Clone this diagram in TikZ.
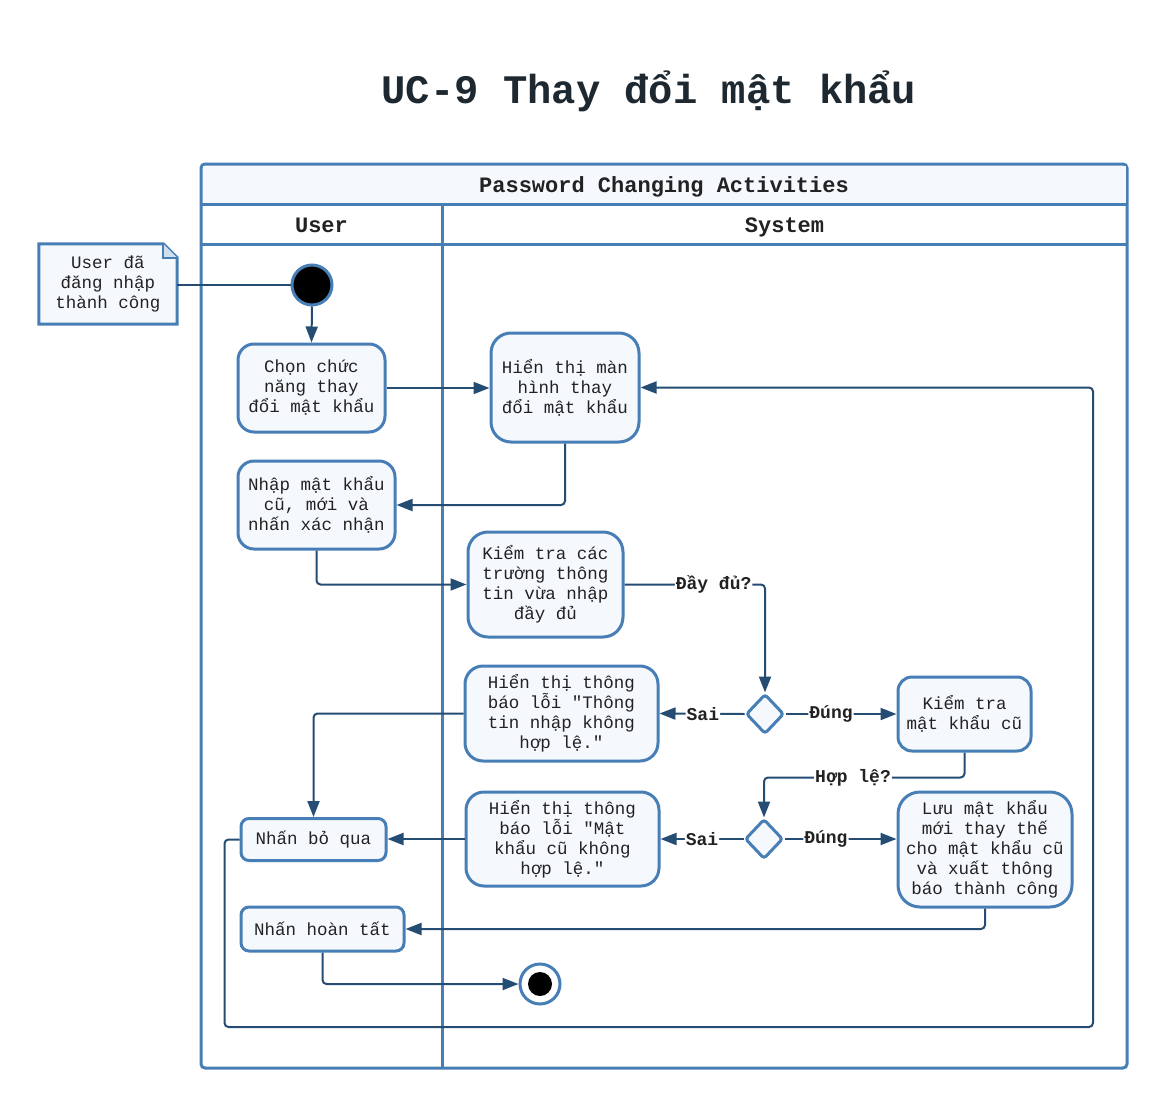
\documentclass[tikz,border=0pt]{standalone}
\usepackage{fontspec}
\setmainfont{Liberation Mono}
\usetikzlibrary{arrows.meta}
\usetikzlibrary{shapes.geometric}
\usepackage{xcolor}
\definecolor{lane}{HTML}{487EB6}
\definecolor{pale}{HTML}{F5F9FE}
\definecolor{wire}{HTML}{254D74}
\definecolor{ink}{HTML}{222222}
\definecolor{titleink}{HTML}{1E2830}

\begin{document}
\begin{tikzpicture}[x=1pt, y=-1pt,
 act/.style={draw=lane, line width=3, fill=pale, rounded corners=16, align=center, inner sep=0, text=ink, font=\fontsize{17.5}{20}\selectfont},
 btn/.style={act, rounded corners=8},
 gate/.style={diamond, draw=lane, line width=3, fill=pale, rounded corners=3, minimum width=38, minimum height=40, inner sep=0},
 flow/.style={draw=wire, line width=2, rounded corners=4, -{Triangle[length=16,width=12]}},
 lbl/.style={fill=white, inner sep=1, text=ink, font=\bfseries\fontsize{18}{20}\selectfont},
 head/.style={anchor=base, text=ink, font=\bfseries\fontsize{22}{24}\selectfont},
 frame/.style={draw=lane, line width=3}]
\useasboundingbox (0,0) rectangle (1168,1108);
\node[anchor=base, text=titleink, font=\bfseries\fontsize{40.5}{44}\selectfont] (title) at (649,103) {UC-9 Thay đổi mật khẩu};
\draw[frame, fill=white, rounded corners=4] (201,164) rectangle (1127,1068);
\fill[pale] (202.5,165.5) rectangle (1125.5,204);
\draw[frame] (201,204) -- (1127,204);
\draw[frame] (201,244) -- (1127,244);
\draw[frame] (442,204) -- (442,1068);
\node[head] (tpool) at (664,192) {Password Changing Activities};
\node[head] (tuser) at (321.5,232) {User};
\node[head] (tsys) at (784.5,232) {System};

\node[inner sep=0, minimum width=138, minimum height=80] (pre) at (108,284) {};
\draw[frame, fill=pale] (pre.south west) -- (pre.north west) -- ([xshift=-14]pre.north east) -- ([yshift=-14]pre.north east) -- (pre.south east) -- cycle;
\draw[draw=lane, line width=2, fill=lane!25] ([xshift=-14]pre.north east) -- ([xshift=-14,yshift=-14]pre.north east) -- ([yshift=-14]pre.north east);
\node[align=center, inner sep=0, text=ink, font=\fontsize{17.5}{20}\selectfont] (pretext) at (pre) {User đã\\đăng nhập\\thành công};

\node[circle, draw=lane, line width=3, fill=black, minimum size=40, inner sep=0] (start) at (312,285) {};
\node[circle, draw=lane, line width=3, fill=white, minimum size=40, inner sep=0] (fin) at (540,984) {};
\node[circle, fill=black, minimum size=24, inner sep=0] (fincore) at (fin) {};

\node[act, minimum width=147, minimum height=88] (chon) at (311.5,388) {Chọn chức\\năng thay\\đổi mật khẩu};
\node[act, rounded corners=20, minimum width=148, minimum height=109] (hienmh) at (565,387.5) {Hiển thị màn\\hình thay\\đổi mật khẩu};
\node[act, minimum width=157, minimum height=88] (nhap) at (316.5,505) {Nhập mật khẩu\\cũ, mới và\\nhấn xác nhận};
\node[act, rounded corners=20, minimum width=155, minimum height=105] (kiem) at (545.5,584.5) {Kiểm tra các\\trường thông\\tin vừa nhập\\đầy đủ};
\node[gate] (d1) at (765,714) {};
\node[act, rounded corners=18, minimum width=193, minimum height=95] (err1) at (561.5,713.5) {Hiển thị thông\\báo lỗi \textquotedbl Thông\\tin nhập không\\hợp lệ.\textquotedbl};
\node[act, rounded corners=14, minimum width=133, minimum height=74] (kmk) at (964.5,714) {Kiểm tra\\mật khẩu cũ};
\node[gate] (d2) at (764,839) {};
\node[act, rounded corners=18, minimum width=193, minimum height=94] (err2) at (562.5,839) {Hiển thị thông\\báo lỗi \textquotedbl Mật\\khẩu cũ không\\hợp lệ.\textquotedbl};
\node[act, rounded corners=22, minimum width=174, minimum height=115] (luu) at (985,849.5) {Lưu mật khẩu\\mới thay thế\\cho mật khẩu cũ\\và xuất thông\\báo thành công};
\node[btn, minimum width=145, minimum height=42] (boqua) at (313.5,839.5) {Nhấn bỏ qua};
\node[btn, minimum width=163, minimum height=44] (hoantat) at (322.5,929) {Nhấn hoàn tất};

\draw[draw=wire, line width=2] (pre.east |- start.west) -- (start.west);
\draw[flow] (start.south) -- (chon.north);
\draw[flow] (chon.east) -- (chon.east -| hienmh.west);
\draw[flow] (hienmh.south) |- (nhap.east);
\draw[flow] (nhap.south) |- (kiem.west);
\draw[flow] (kiem.east) -| node[lbl, pos=0.317] (qfull) {Đầy đủ?} (d1.north);
\draw[flow] (d1.west) -- node[lbl, pos=0.49] (no1) {Sai} (err1.east);
\draw[flow] (d1.east) -- node[lbl, pos=0.41] (yes1) {Đúng} (kmk.west);
\draw[flow] (kmk.south) -- ++(0,25) -| node[lbl, pos=0.278] (qvalid) {Hợp lệ?} (d2.north);
\draw[flow] (d2.west) -- node[lbl, pos=0.5] (no2) {Sai} (err2.east);
\draw[flow] (d2.east) -- node[lbl, pos=0.37] (yes2) {Đúng} (d2.east -| luu.west);
\draw[flow] (err1.west) -| (boqua.north);
\draw[flow] (err2.west) -- (err2.west -| boqua.east);
\draw[flow] (luu.south) |- (hoantat.east);
\draw[flow] (hoantat.south) |- (fin.west);
\draw[flow] (boqua.west) -- ++(-15,0) |- (1093,1027) |- (hienmh.east);
\end{tikzpicture}
\end{document}
